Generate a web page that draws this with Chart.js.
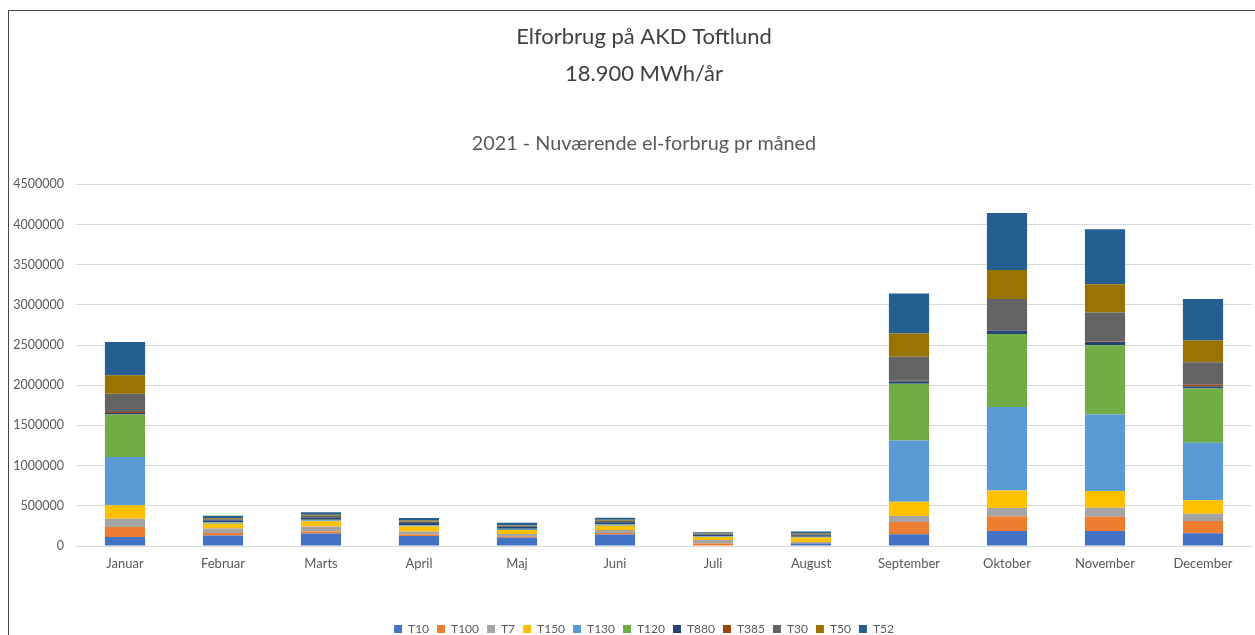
<!DOCTYPE html>
<html lang="da">
<head>
<meta charset="utf-8">
<title>Elforbrug på AKD Toftlund</title>
<script src="https://cdn.jsdelivr.net/npm/chart.js@4.4.1/dist/chart.umd.min.js"></script>
<style>
  body { margin: 0; background: #fff; overflow: hidden; }
  #ramme {
    position: absolute; left: 8px; top: 10px;
    width: 1270px; height: 634px;
    border-left: 1px solid #444; border-top: 1px solid #444;
  }
</style>
</head>
<body>
<div id="ramme"><canvas id="grafica"></canvas></div>
<script>
// ===============================
// DATA
// ===============================
const maaneder = ["Januar", "Februar", "Marts", "April", "Maj", "Juni", "Juli", "August", "September", "Oktober", "November", "December"];

const T10  = [112000, 130000, 155000, 124000, 105000, 143000,   6000,  31000, 145000, 186000, 186000, 158000];
const T100 = [124000,  31000,  25000,  19000,  15000,  19000,  25000,   6000, 153000, 183000, 178000, 153000];
const T7   = [103000,  58000,  62000,  37000,  28000,  37000,  43000,  12000,  75000, 103000, 112000,  91000];
const T150 = [167000,  58000,  66000,  62000,  50000,  53000,  37000,  56000, 178000, 220000, 207000, 167000];
const T130 = [600000,  12000,  12000,  12000,  12000,  12000,   6000,   6000, 763000, 1039000, 953000, 716000];
const T120 = [531000,   6000,   6000,   6000,   4000,   6000,   4000,   4000, 704000, 907000, 862000, 676000];
const T880 = [ 19000,  25000,  25000,  25000,  25000,  25000,  19000,  19000,  33000,  44000,  41000,  25000];
const T385 = [ 12000,      0,      0,      0,      0,      0,      0,      0,   6000,   6000,   6000,  19000];
const T30  = [227000,  12000,  25000,  19000,  12000,  19000,  12000,  12000, 298000, 385000, 360000, 281000];
const T50  = [229000,  12000,  12000,  12000,   8000,  12000,   6000,   8000, 290000, 360000, 353000, 270000];
const T52  = [414000,  31000,  31000,  31000,  31000,  25000,  12000,  25000, 497000, 712000, 684000, 518000];

const serier = [
  ["T10", T10, "#4472C4"],
  ["T100", T100, "#ED7D31"],
  ["T7", T7, "#A5A5A5"],
  ["T150", T150, "#FFC000"],
  ["T130", T130, "#5B9BD5"],
  ["T120", T120, "#70AD47"],
  ["T880", T880, "#264478"],
  ["T385", T385, "#9E480E"],
  ["T30", T30, "#636363"],
  ["T50", T50, "#997300"],
  ["T52", T52, "#255E91"]
];

const yTicks = [0, 500000, 1000000, 1500000, 2000000, 2500000, 3000000, 3500000, 4000000, 4500000];

// ===============================
// GRAF
// ===============================
const skrift = "Lato, 'Open Sans', sans-serif";
const ctx = document.getElementById("grafica").getContext("2d");

window.chart = new Chart(ctx, {
  type: "bar",
  data: {
    labels: maaneder,
    datasets: serier.map(s => ({
      label: s[0],
      data: s[1],
      backgroundColor: s[2],
      borderWidth: 0,
      barPercentage: 0.41,
      categoryPercentage: 1
    }))
  },
  options: {
    responsive: true,
    maintainAspectRatio: false,
    animation: false,
    layout: { padding: 0 },
    plugins: {
      title: {
        display: true,
        text: ["Elforbrug på AKD Toftlund", "18.900 MWh/år"],
        color: "#404040",
        font: { family: skrift, size: 22, weight: "normal", lineHeight: 1.65 },
        padding: { top: 8, bottom: 0 }
      },
      subtitle: {
        display: true,
        text: "2021 - Nuværende el-forbrug pr måned",
        color: "#595959",
        font: { family: skrift, size: 19.8, weight: "normal", lineHeight: 1.2 },
        padding: { top: 40, bottom: 29 }
      },
      legend: {
        position: "bottom",
        labels: {
          boxWidth: 8,
          boxHeight: 8,
          padding: 8,
          color: "#595959",
          font: { family: skrift, size: 12 }
        }
      },
      tooltip: { enabled: false }
    },
    scales: {
      x: {
        stacked: true,
        grid: { display: false },
        border: { display: false },
        ticks: { color: "#595959", font: { family: skrift, size: 13 }, padding: 2 },
        afterFit: function(scale) { scale.height = 69; }
      },
      y: {
        stacked: true,
        min: 0,
        max: 4500000,
        afterBuildTicks: function(scale) { scale.ticks = yTicks.map(v => ({ value: v })); },
        grid: { color: "#d9d9d9", drawTicks: false },
        border: { display: false },
        ticks: { color: "#595959", font: { family: skrift, size: 12.5 }, padding: 12, callback: v => String(v) },
        afterFit: function(scale) { scale.width = 67; }
      },
      // tom akse til højre, kun for at holde plads
      hoejre: {
        position: "right",
        grid: { display: false },
        border: { display: false },
        ticks: { display: false },
        afterFit: function(scale) { scale.width = 27; }
      }
    }
  }
});
</script>
</body>
</html>
